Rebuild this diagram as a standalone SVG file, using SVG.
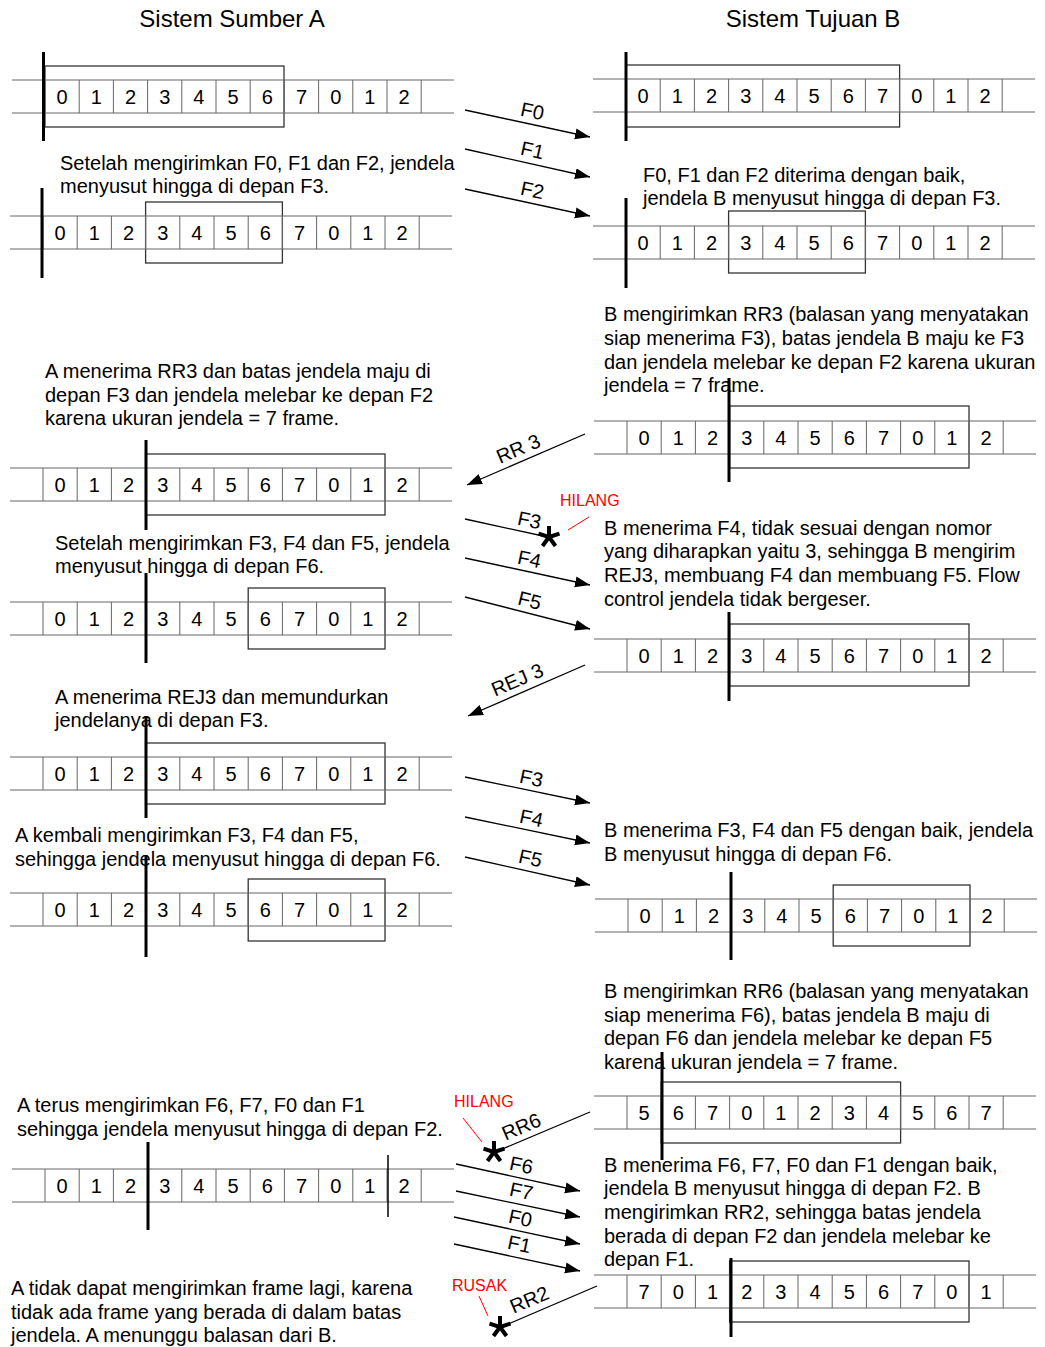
<svg xmlns="http://www.w3.org/2000/svg" xmlns:xlink="http://www.w3.org/1999/xlink" width="1045" height="1347" viewBox="0 0 1045 1347">
<style>
text{font-family:"Liberation Sans",Arial,sans-serif;fill:#000}
.t{font-size:20px}
.h{font-size:24px}
.n{font-size:20px;text-anchor:middle}
.lbl{font-size:20px;text-anchor:middle}
.red{font-size:16px;fill:#ff0000}
.sk line{stroke:#666;stroke-width:1}
.win{fill:none;stroke:#333;stroke-width:1.3}
.bold{stroke:#000;stroke-width:3}
.thin{stroke:#000;stroke-width:1.5}
.arr{stroke:#000;stroke-width:1.3;fill:none}
.arrm{marker-end:url(#ah)}
.star line{stroke:#000;stroke-width:4;stroke-linecap:butt}
.rl{stroke:#ff0000;stroke-width:1}
</style>
<defs>
<marker id="ah" markerUnits="userSpaceOnUse" markerWidth="16" markerHeight="12" refX="15" refY="5.5" orient="auto">
<path d="M0,0 L15,5.5 L0,11 z" fill="#000"/>
</marker>
<g id="strip" class="sk">
<line x1="-33" y1="0" x2="409" y2="0"/>
<line x1="-33" y1="33" x2="409" y2="33"/>
<line x1="0" y1="0" x2="0" y2="33"/>
<line x1="34.2" y1="0" x2="34.2" y2="33"/>
<line x1="68.4" y1="0" x2="68.4" y2="33"/>
<line x1="102.6" y1="0" x2="102.6" y2="33"/>
<line x1="136.8" y1="0" x2="136.8" y2="33"/>
<line x1="171" y1="0" x2="171" y2="33"/>
<line x1="205.2" y1="0" x2="205.2" y2="33"/>
<line x1="239.4" y1="0" x2="239.4" y2="33"/>
<line x1="273.6" y1="0" x2="273.6" y2="33"/>
<line x1="307.8" y1="0" x2="307.8" y2="33"/>
<line x1="342" y1="0" x2="342" y2="33"/>
<line x1="376.2" y1="0" x2="376.2" y2="33"/>
</g>
<g id="star" class="star">
<line x1="0" y1="0" x2="0" y2="-11"/>
<line x1="0" y1="0" x2="10.5" y2="-3.4"/>
<line x1="0" y1="0" x2="-10.5" y2="-3.4"/>
<line x1="0" y1="0" x2="6.5" y2="9"/>
<line x1="0" y1="0" x2="-6.5" y2="9"/>
</g>
</defs>
<rect width="1045" height="1347" fill="#fff"/>

<g id="titles">
<text class="h" x="232" y="27" text-anchor="middle">Sistem Sumber A</text>
<text class="h" x="813" y="27" text-anchor="middle">Sistem Tujuan B</text>
</g>

<!-- Left strips -->
<g id="L1">
<rect class="win" x="45" y="66" width="239" height="61"/>
<use xlink:href="#strip" x="45" y="80"/>
<line class="bold" x1="43.5" y1="52" x2="43.5" y2="141"/>
<text class="n" x="62.1" y="104">0</text><text class="n" x="96.3" y="104">1</text><text class="n" x="130.5" y="104">2</text><text class="n" x="164.7" y="104">3</text><text class="n" x="198.9" y="104">4</text><text class="n" x="233.1" y="104">5</text><text class="n" x="267.3" y="104">6</text><text class="n" x="301.5" y="104">7</text><text class="n" x="335.7" y="104">0</text><text class="n" x="369.9" y="104">1</text><text class="n" x="404.1" y="104">2</text>
</g>
<g id="L2">
<rect class="win" x="145.6" y="202" width="136.8" height="61"/>
<use xlink:href="#strip" x="43" y="216"/>
<line class="bold" x1="42" y1="188" x2="42" y2="278"/>
<text class="n" x="60.1" y="240">0</text><text class="n" x="94.3" y="240">1</text><text class="n" x="128.5" y="240">2</text><text class="n" x="162.7" y="240">3</text><text class="n" x="196.9" y="240">4</text><text class="n" x="231.1" y="240">5</text><text class="n" x="265.3" y="240">6</text><text class="n" x="299.5" y="240">7</text><text class="n" x="333.7" y="240">0</text><text class="n" x="367.9" y="240">1</text><text class="n" x="402.1" y="240">2</text>
</g>
<g id="L3">
<rect class="win" x="145.6" y="454" width="239.4" height="61"/>
<use xlink:href="#strip" x="43" y="468"/>
<line class="bold" x1="146" y1="440" x2="146" y2="530"/>
<text class="n" x="60.1" y="492">0</text><text class="n" x="94.3" y="492">1</text><text class="n" x="128.5" y="492">2</text><text class="n" x="162.7" y="492">3</text><text class="n" x="196.9" y="492">4</text><text class="n" x="231.1" y="492">5</text><text class="n" x="265.3" y="492">6</text><text class="n" x="299.5" y="492">7</text><text class="n" x="333.7" y="492">0</text><text class="n" x="367.9" y="492">1</text><text class="n" x="402.1" y="492">2</text>
</g>
<g id="L4">
<rect class="win" x="248.2" y="588" width="136.8" height="61"/>
<use xlink:href="#strip" x="43" y="602"/>
<line class="bold" x1="146" y1="573" x2="146" y2="663"/>
<text class="n" x="60.1" y="626">0</text><text class="n" x="94.3" y="626">1</text><text class="n" x="128.5" y="626">2</text><text class="n" x="162.7" y="626">3</text><text class="n" x="196.9" y="626">4</text><text class="n" x="231.1" y="626">5</text><text class="n" x="265.3" y="626">6</text><text class="n" x="299.5" y="626">7</text><text class="n" x="333.7" y="626">0</text><text class="n" x="367.9" y="626">1</text><text class="n" x="402.1" y="626">2</text>
</g>
<g id="L5">
<rect class="win" x="145.6" y="743" width="239.4" height="61"/>
<use xlink:href="#strip" x="43" y="757"/>
<line class="bold" x1="146" y1="716" x2="146" y2="818"/>
<text class="n" x="60.1" y="781">0</text><text class="n" x="94.3" y="781">1</text><text class="n" x="128.5" y="781">2</text><text class="n" x="162.7" y="781">3</text><text class="n" x="196.9" y="781">4</text><text class="n" x="231.1" y="781">5</text><text class="n" x="265.3" y="781">6</text><text class="n" x="299.5" y="781">7</text><text class="n" x="333.7" y="781">0</text><text class="n" x="367.9" y="781">1</text><text class="n" x="402.1" y="781">2</text>
</g>
<g id="L6">
<rect class="win" x="248.2" y="879" width="136.8" height="62"/>
<use xlink:href="#strip" x="43" y="893"/>
<line class="bold" x1="146" y1="855" x2="146" y2="957"/>
<text class="n" x="60.1" y="917">0</text><text class="n" x="94.3" y="917">1</text><text class="n" x="128.5" y="917">2</text><text class="n" x="162.7" y="917">3</text><text class="n" x="196.9" y="917">4</text><text class="n" x="231.1" y="917">5</text><text class="n" x="265.3" y="917">6</text><text class="n" x="299.5" y="917">7</text><text class="n" x="333.7" y="917">0</text><text class="n" x="367.9" y="917">1</text><text class="n" x="402.1" y="917">2</text>
</g>
<g id="L7">
<use xlink:href="#strip" x="45" y="1169"/>
<line class="bold" x1="148" y1="1142" x2="148" y2="1230"/>
<line class="thin" x1="388" y1="1155" x2="388" y2="1217"/>
<text class="n" x="62.1" y="1193">0</text><text class="n" x="96.3" y="1193">1</text><text class="n" x="130.5" y="1193">2</text><text class="n" x="164.7" y="1193">3</text><text class="n" x="198.9" y="1193">4</text><text class="n" x="233.1" y="1193">5</text><text class="n" x="267.3" y="1193">6</text><text class="n" x="301.5" y="1193">7</text><text class="n" x="335.7" y="1193">0</text><text class="n" x="369.9" y="1193">1</text><text class="n" x="404.1" y="1193">2</text>
</g>

<!-- Right strips -->
<g id="R1">
<rect class="win" x="626" y="65" width="273.6" height="62"/>
<use xlink:href="#strip" x="626" y="79"/>
<line class="bold" x1="626" y1="52" x2="626" y2="141"/>
<text class="n" x="643.1" y="103">0</text><text class="n" x="677.3" y="103">1</text><text class="n" x="711.5" y="103">2</text><text class="n" x="745.7" y="103">3</text><text class="n" x="779.9" y="103">4</text><text class="n" x="814.1" y="103">5</text><text class="n" x="848.3" y="103">6</text><text class="n" x="882.5" y="103">7</text><text class="n" x="916.7" y="103">0</text><text class="n" x="950.9" y="103">1</text><text class="n" x="985.1" y="103">2</text>
</g>
<g id="R2">
<rect class="win" x="728.6" y="211" width="136.8" height="62"/>
<use xlink:href="#strip" x="626" y="226"/>
<line class="bold" x1="626" y1="198" x2="626" y2="288"/>
<text class="n" x="643.1" y="250">0</text><text class="n" x="677.3" y="250">1</text><text class="n" x="711.5" y="250">2</text><text class="n" x="745.7" y="250">3</text><text class="n" x="779.9" y="250">4</text><text class="n" x="814.1" y="250">5</text><text class="n" x="848.3" y="250">6</text><text class="n" x="882.5" y="250">7</text><text class="n" x="916.7" y="250">0</text><text class="n" x="950.9" y="250">1</text><text class="n" x="985.1" y="250">2</text>
</g>
<g id="R3">
<rect class="win" x="729.6" y="406" width="239.4" height="62"/>
<use xlink:href="#strip" x="627" y="421"/>
<line class="bold" x1="729" y1="378" x2="729" y2="482"/>
<text class="n" x="644.1" y="445">0</text><text class="n" x="678.3" y="445">1</text><text class="n" x="712.5" y="445">2</text><text class="n" x="746.7" y="445">3</text><text class="n" x="780.9" y="445">4</text><text class="n" x="815.1" y="445">5</text><text class="n" x="849.3" y="445">6</text><text class="n" x="883.5" y="445">7</text><text class="n" x="917.7" y="445">0</text><text class="n" x="951.9" y="445">1</text><text class="n" x="986.1" y="445">2</text>
</g>
<g id="R4">
<rect class="win" x="729.6" y="624" width="239.4" height="62"/>
<use xlink:href="#strip" x="627" y="639"/>
<line class="bold" x1="729" y1="612" x2="729" y2="701"/>
<text class="n" x="644.1" y="663">0</text><text class="n" x="678.3" y="663">1</text><text class="n" x="712.5" y="663">2</text><text class="n" x="746.7" y="663">3</text><text class="n" x="780.9" y="663">4</text><text class="n" x="815.1" y="663">5</text><text class="n" x="849.3" y="663">6</text><text class="n" x="883.5" y="663">7</text><text class="n" x="917.7" y="663">0</text><text class="n" x="951.9" y="663">1</text><text class="n" x="986.1" y="663">2</text>
</g>
<g id="R5">
<rect class="win" x="833.2" y="885" width="136.8" height="61"/>
<use xlink:href="#strip" x="628" y="899"/>
<line class="bold" x1="731" y1="872" x2="731" y2="960"/>
<text class="n" x="645.1" y="923">0</text><text class="n" x="679.3" y="923">1</text><text class="n" x="713.5" y="923">2</text><text class="n" x="747.7" y="923">3</text><text class="n" x="781.9" y="923">4</text><text class="n" x="816.1" y="923">5</text><text class="n" x="850.3" y="923">6</text><text class="n" x="884.5" y="923">7</text><text class="n" x="918.7" y="923">0</text><text class="n" x="952.9" y="923">1</text><text class="n" x="987.1" y="923">2</text>
</g>
<g id="R6">
<rect class="win" x="661.2" y="1082" width="239.4" height="61"/>
<use xlink:href="#strip" x="627" y="1096"/>
<line class="bold" x1="662" y1="1052" x2="662" y2="1160"/>
<text class="n" x="644.1" y="1120">5</text><text class="n" x="678.3" y="1120">6</text><text class="n" x="712.5" y="1120">7</text><text class="n" x="746.7" y="1120">0</text><text class="n" x="780.9" y="1120">1</text><text class="n" x="815.1" y="1120">2</text><text class="n" x="849.3" y="1120">3</text><text class="n" x="883.5" y="1120">4</text><text class="n" x="917.7" y="1120">5</text><text class="n" x="951.9" y="1120">6</text><text class="n" x="986.1" y="1120">7</text>
</g>
<g id="R7">
<rect class="win" x="729.6" y="1261" width="239.4" height="61"/>
<use xlink:href="#strip" x="627" y="1275"/>
<line class="bold" x1="731" y1="1258" x2="731" y2="1337"/>
<text class="n" x="644.1" y="1299">7</text><text class="n" x="678.3" y="1299">0</text><text class="n" x="712.5" y="1299">1</text><text class="n" x="746.7" y="1299">2</text><text class="n" x="780.9" y="1299">3</text><text class="n" x="815.1" y="1299">4</text><text class="n" x="849.3" y="1299">5</text><text class="n" x="883.5" y="1299">6</text><text class="n" x="917.7" y="1299">7</text><text class="n" x="951.9" y="1299">0</text><text class="n" x="986.1" y="1299">1</text>
</g>

<!-- Captions -->
<g id="capA1"><text class="t" x="60" y="170">Setelah mengirimkan F0, F1 dan F2, jendela</text><text class="t" x="60" y="193">menyusut hingga di depan F3.</text></g>
<g id="capB1"><text class="t" x="643" y="182">F0, F1 dan F2 diterima dengan baik,</text><text class="t" x="643" y="205">jendela B menyusut hingga di depan F3.</text></g>
<g id="capB2"><text class="t" x="604" y="321">B mengirimkan RR3 (balasan yang menyatakan</text><text class="t" x="604" y="345">siap menerima F3), batas jendela B maju ke F3</text><text class="t" x="604" y="369">dan jendela melebar ke depan F2 karena ukuran</text><text class="t" x="604" y="392">jendela = 7 frame.</text></g>
<g id="capA2"><text class="t" x="45" y="378">A menerima RR3 dan batas jendela maju di</text><text class="t" x="45" y="402">depan F3 dan jendela melebar ke depan F2</text><text class="t" x="45" y="425">karena ukuran jendela = 7 frame.</text></g>
<g id="capA3"><text class="t" x="55" y="550">Setelah mengirimkan F3, F4 dan F5, jendela</text><text class="t" x="55" y="573">menyusut hingga di depan F6.</text></g>
<g id="capB3"><text class="t" x="604" y="535">B menerima F4, tidak sesuai dengan nomor</text><text class="t" x="604" y="558">yang diharapkan yaitu 3, sehingga B mengirim</text><text class="t" x="604" y="582">REJ3, membuang F4 dan membuang F5. Flow</text><text class="t" x="604" y="606">control jendela tidak bergeser.</text></g>
<g id="capA4"><text class="t" x="55" y="704">A menerima REJ3 dan memundurkan</text><text class="t" x="55" y="727">jendelanya di depan F3.</text></g>
<g id="capA5"><text class="t" x="15" y="842">A kembali mengirimkan F3, F4 dan F5,</text><text class="t" x="15" y="866">sehingga jendela menyusut hingga di depan F6.</text></g>
<g id="capB4"><text class="t" x="604" y="837">B menerima F3, F4 dan F5 dengan baik, jendela</text><text class="t" x="604" y="861">B menyusut hingga di depan F6.</text></g>
<g id="capB5"><text class="t" x="604" y="998">B mengirimkan RR6 (balasan yang menyatakan</text><text class="t" x="604" y="1022">siap menerima F6), batas jendela B maju di</text><text class="t" x="604" y="1045">depan F6 dan jendela melebar ke depan F5</text><text class="t" x="604" y="1069">karena ukuran jendela = 7 frame.</text></g>
<g id="capA6"><text class="t" x="17" y="1112">A terus mengirimkan F6, F7, F0 dan F1</text><text class="t" x="17" y="1136">sehingga jendela menyusut hingga di depan F2.</text></g>
<g id="capB6"><text class="t" x="604" y="1172">B menerima F6, F7, F0 dan F1 dengan baik,</text><text class="t" x="604" y="1195">jendela B menyusut hingga di depan F2. B</text><text class="t" x="604" y="1219">mengirimkan RR2, sehingga batas jendela</text><text class="t" x="604" y="1243">berada di depan F2 dan jendela melebar ke</text><text class="t" x="604" y="1266">depan F1.</text></g>
<g id="capA7"><text class="t" x="11" y="1295">A tidak dapat mengirimkan frame lagi, karena</text><text class="t" x="11" y="1319">tidak ada frame yang berada di dalam batas</text><text class="t" x="11" y="1342">jendela. A menunggu balasan dari B.</text></g>

<!-- Connectors -->
<g id="connectors">
<line class="arr arrm" x1="465" y1="110" x2="590" y2="137"/>
<line class="arr arrm" x1="465" y1="149" x2="590" y2="177"/>
<line class="arr arrm" x1="465" y1="189" x2="590" y2="216"/>
<line class="arr arrm" x1="585" y1="434" x2="467" y2="485"/>
<line class="arr" x1="465" y1="519" x2="543" y2="536"/>
<line class="arr arrm" x1="465" y1="558" x2="590" y2="585"/>
<line class="arr arrm" x1="465" y1="597" x2="590" y2="629"/>
<line class="arr arrm" x1="585" y1="665" x2="468" y2="716"/>
<line class="arr arrm" x1="465" y1="777" x2="590" y2="803"/>
<line class="arr arrm" x1="465" y1="817" x2="590" y2="843"/>
<line class="arr arrm" x1="465" y1="857" x2="590" y2="885"/>
<line class="arr" x1="590" y1="1112" x2="500" y2="1150"/>
<line class="arr arrm" x1="456" y1="1164" x2="580" y2="1191"/>
<line class="arr arrm" x1="456" y1="1191" x2="580" y2="1217"/>
<line class="arr arrm" x1="454" y1="1217" x2="580" y2="1244"/>
<line class="arr arrm" x1="454" y1="1244" x2="580" y2="1271"/>
<line class="arr" x1="597" y1="1286" x2="506" y2="1325"/>

<text class="lbl" transform="translate(531,118) rotate(12)">F0</text>
<text class="lbl" transform="translate(531,157) rotate(12.5)">F1</text>
<text class="lbl" transform="translate(531,197) rotate(12)">F2</text>
<text class="lbl" transform="translate(521,455) rotate(-23)">RR 3</text>
<text class="lbl" transform="translate(528,527) rotate(12)">F3</text>
<text class="lbl" transform="translate(528,566) rotate(12)">F4</text>
<text class="lbl" transform="translate(528,607) rotate(14)">F5</text>
<text class="lbl" transform="translate(520,686) rotate(-23)">REJ 3</text>
<text class="lbl" transform="translate(530,785) rotate(12)">F3</text>
<text class="lbl" transform="translate(530,825) rotate(12)">F4</text>
<text class="lbl" transform="translate(529,865) rotate(12.5)">F5</text>
<text class="lbl" transform="translate(524,1133) rotate(-23)">RR6</text>
<text class="lbl" transform="translate(520,1172) rotate(12)">F6</text>
<text class="lbl" transform="translate(520,1198) rotate(12)">F7</text>
<text class="lbl" transform="translate(519,1225) rotate(12)">F0</text>
<text class="lbl" transform="translate(518,1251) rotate(12)">F1</text>
<text class="lbl" transform="translate(532,1306) rotate(-23)">RR2</text>

<use xlink:href="#star" x="549" y="537"/>
<use xlink:href="#star" x="494" y="1152"/>
<use xlink:href="#star" x="500" y="1327"/>

<text class="red" x="560" y="506">HILANG</text>
<line class="rl" x1="568" y1="530" x2="589" y2="517"/>
<text class="red" x="454" y="1107">HILANG</text>
<line class="rl" x1="463" y1="1118" x2="482" y2="1142"/>
<text class="red" x="452" y="1291">RUSAK</text>
<line class="rl" x1="479" y1="1296" x2="488" y2="1316"/>
</g>
</svg>
